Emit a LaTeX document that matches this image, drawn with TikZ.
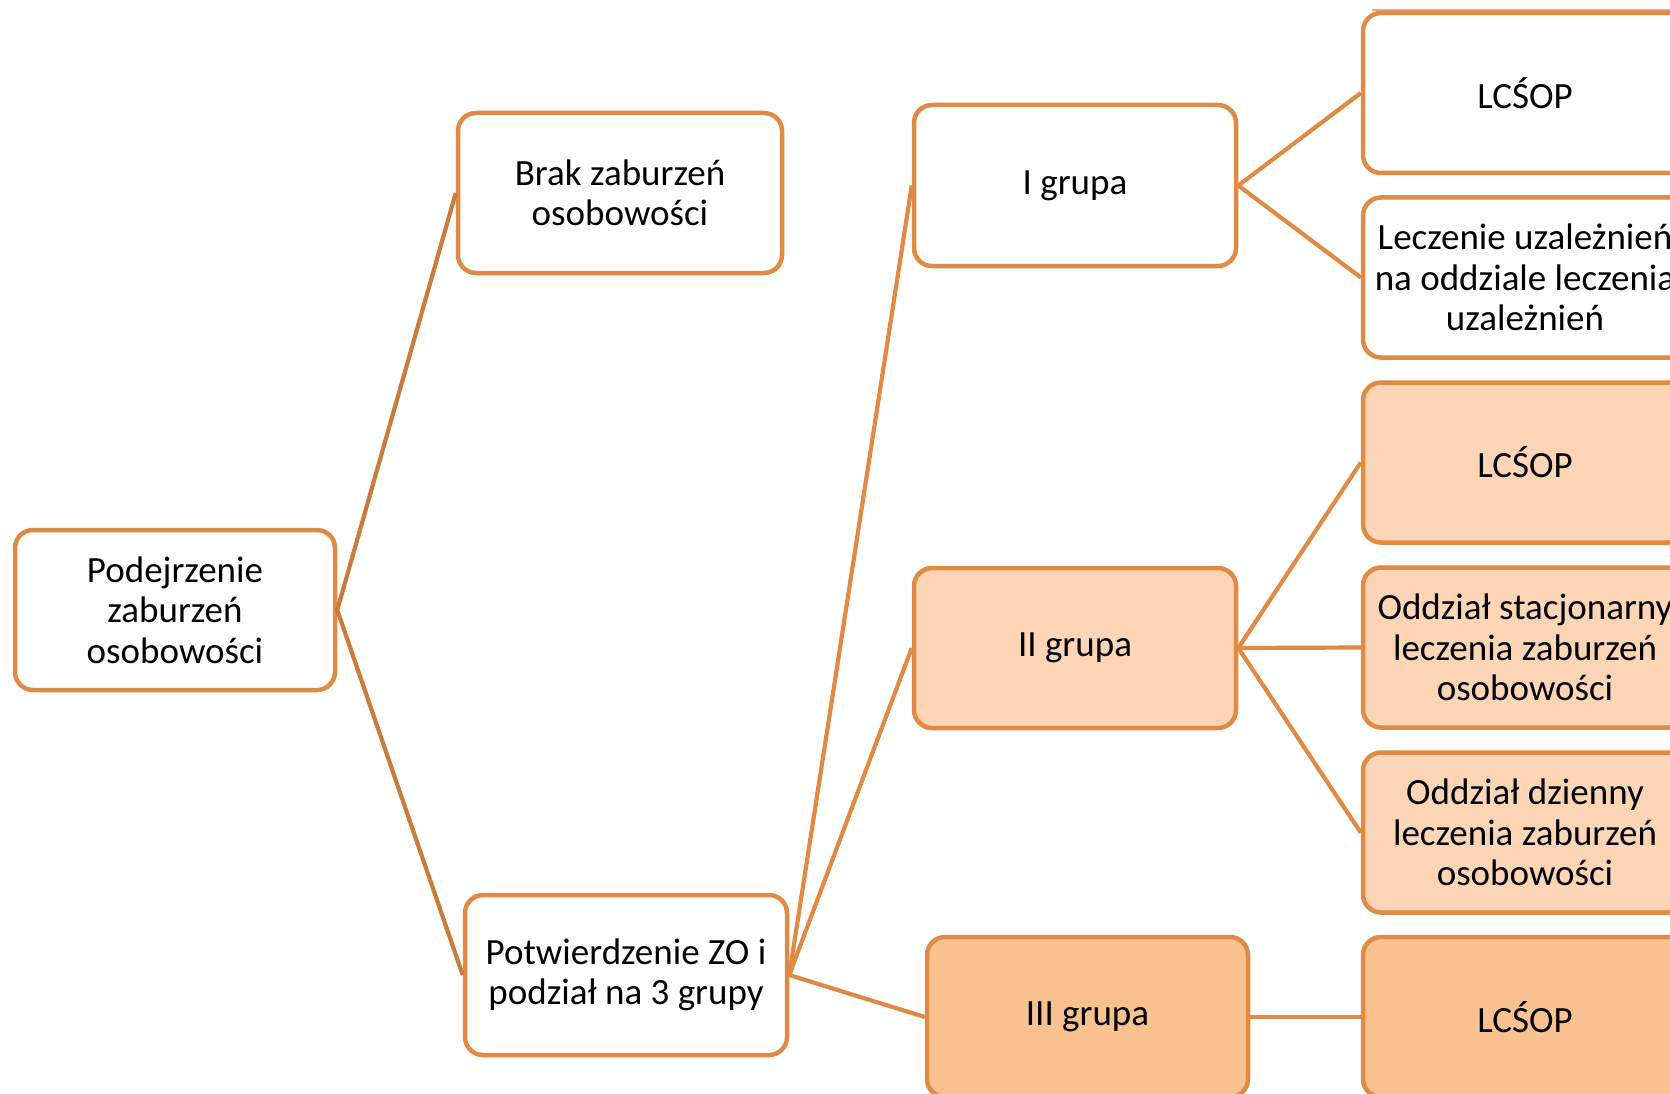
\documentclass[tikz,border=0pt]{standalone}
\usepackage{fontspec}
\setmainfont{Carlito}
\definecolor{edge}{HTML}{E08B45}
\definecolor{rootedge}{HTML}{C97C3C}
\definecolor{paleorange}{HTML}{FBD5B5}
\definecolor{midorange}{HTML}{F9C090}
\begin{document}
\begin{tikzpicture}[x=1pt,y=-1pt,
  box/.style={draw=edge, line width=4.5pt, rounded corners=18pt, fill=white,
    align=center, inner sep=0pt, minimum height=160pt,
    font=\fontsize{37}{40.5}\selectfont},
  palebox/.style={box, fill=paleorange},
  midbox/.style={box, fill=midorange},
  link/.style={draw=edge, line width=4.2pt},
  rootlink/.style={draw=rootedge, line width=4.2pt}]
\clip (0,0) rectangle (1670,1094);
\fill[white] (0,0) rectangle (1670,1094);

% thin rule just above the top right box
\draw[edge!75, line width=1.5pt] (1372,10) -- (1670,10);

% first level
\node[box, minimum width=320pt] (root) at (175,610) {Podejrzenie\\zaburzeń\\osobowości};
\node[box, minimum width=324pt] (brak) at (620,193) {Brak zaburzeń\\osobowości};
\node[box, minimum width=322pt] (potw) at (626,975) {Potwierdzenie ZO i\\podział na 3 grupy};

% groups
\node[box, minimum width=322pt, minimum height=161pt] (g1) at (1075,185.5) {I grupa};
\node[palebox, minimum width=322pt] (g2) at (1075,648) {II grupa};
\node[midbox, minimum width=321pt] (g3) at (1087.5,1017) {III grupa};

% treatment options
\node[box, minimum width=324pt] (r1) at (1525,93) {LCŚOP};
\node[box, minimum width=324pt] (r2) at (1525,277.5) {Leczenie uzależnień\\na oddziale leczenia\\uzależnień};
\node[palebox, minimum width=324pt] (r3) at (1525,462.5) {LCŚOP};
\node[palebox, minimum width=324pt] (r4) at (1525,647.5) {Oddział stacjonarny\\leczenia zaburzeń\\osobowości};
\node[palebox, minimum width=324pt] (r5) at (1525,832.5) {Oddział dzienny\\leczenia zaburzeń\\osobowości};
\node[midbox, minimum width=324pt] (r6) at (1525,1017) {LCŚOP};

% connectors
\draw[rootlink] (brak.west) -- (root.east) -- (potw.west);
\draw[link] (potw.east) -- (g1.west);
\draw[link] (potw.east) -- (g2.west);
\draw[link] (potw.east) -- (g3.west);
\draw[link] (r1.west) -- (g1.east) -- (r2.west);
\draw[link] (g2.east) -- (r3.west);
\draw[link] (g2.east) -- (r4.west);
\draw[link] (g2.east) -- (r5.west);
\draw[link] (g3.east) -- (r6.west);
\end{tikzpicture}
\end{document}
